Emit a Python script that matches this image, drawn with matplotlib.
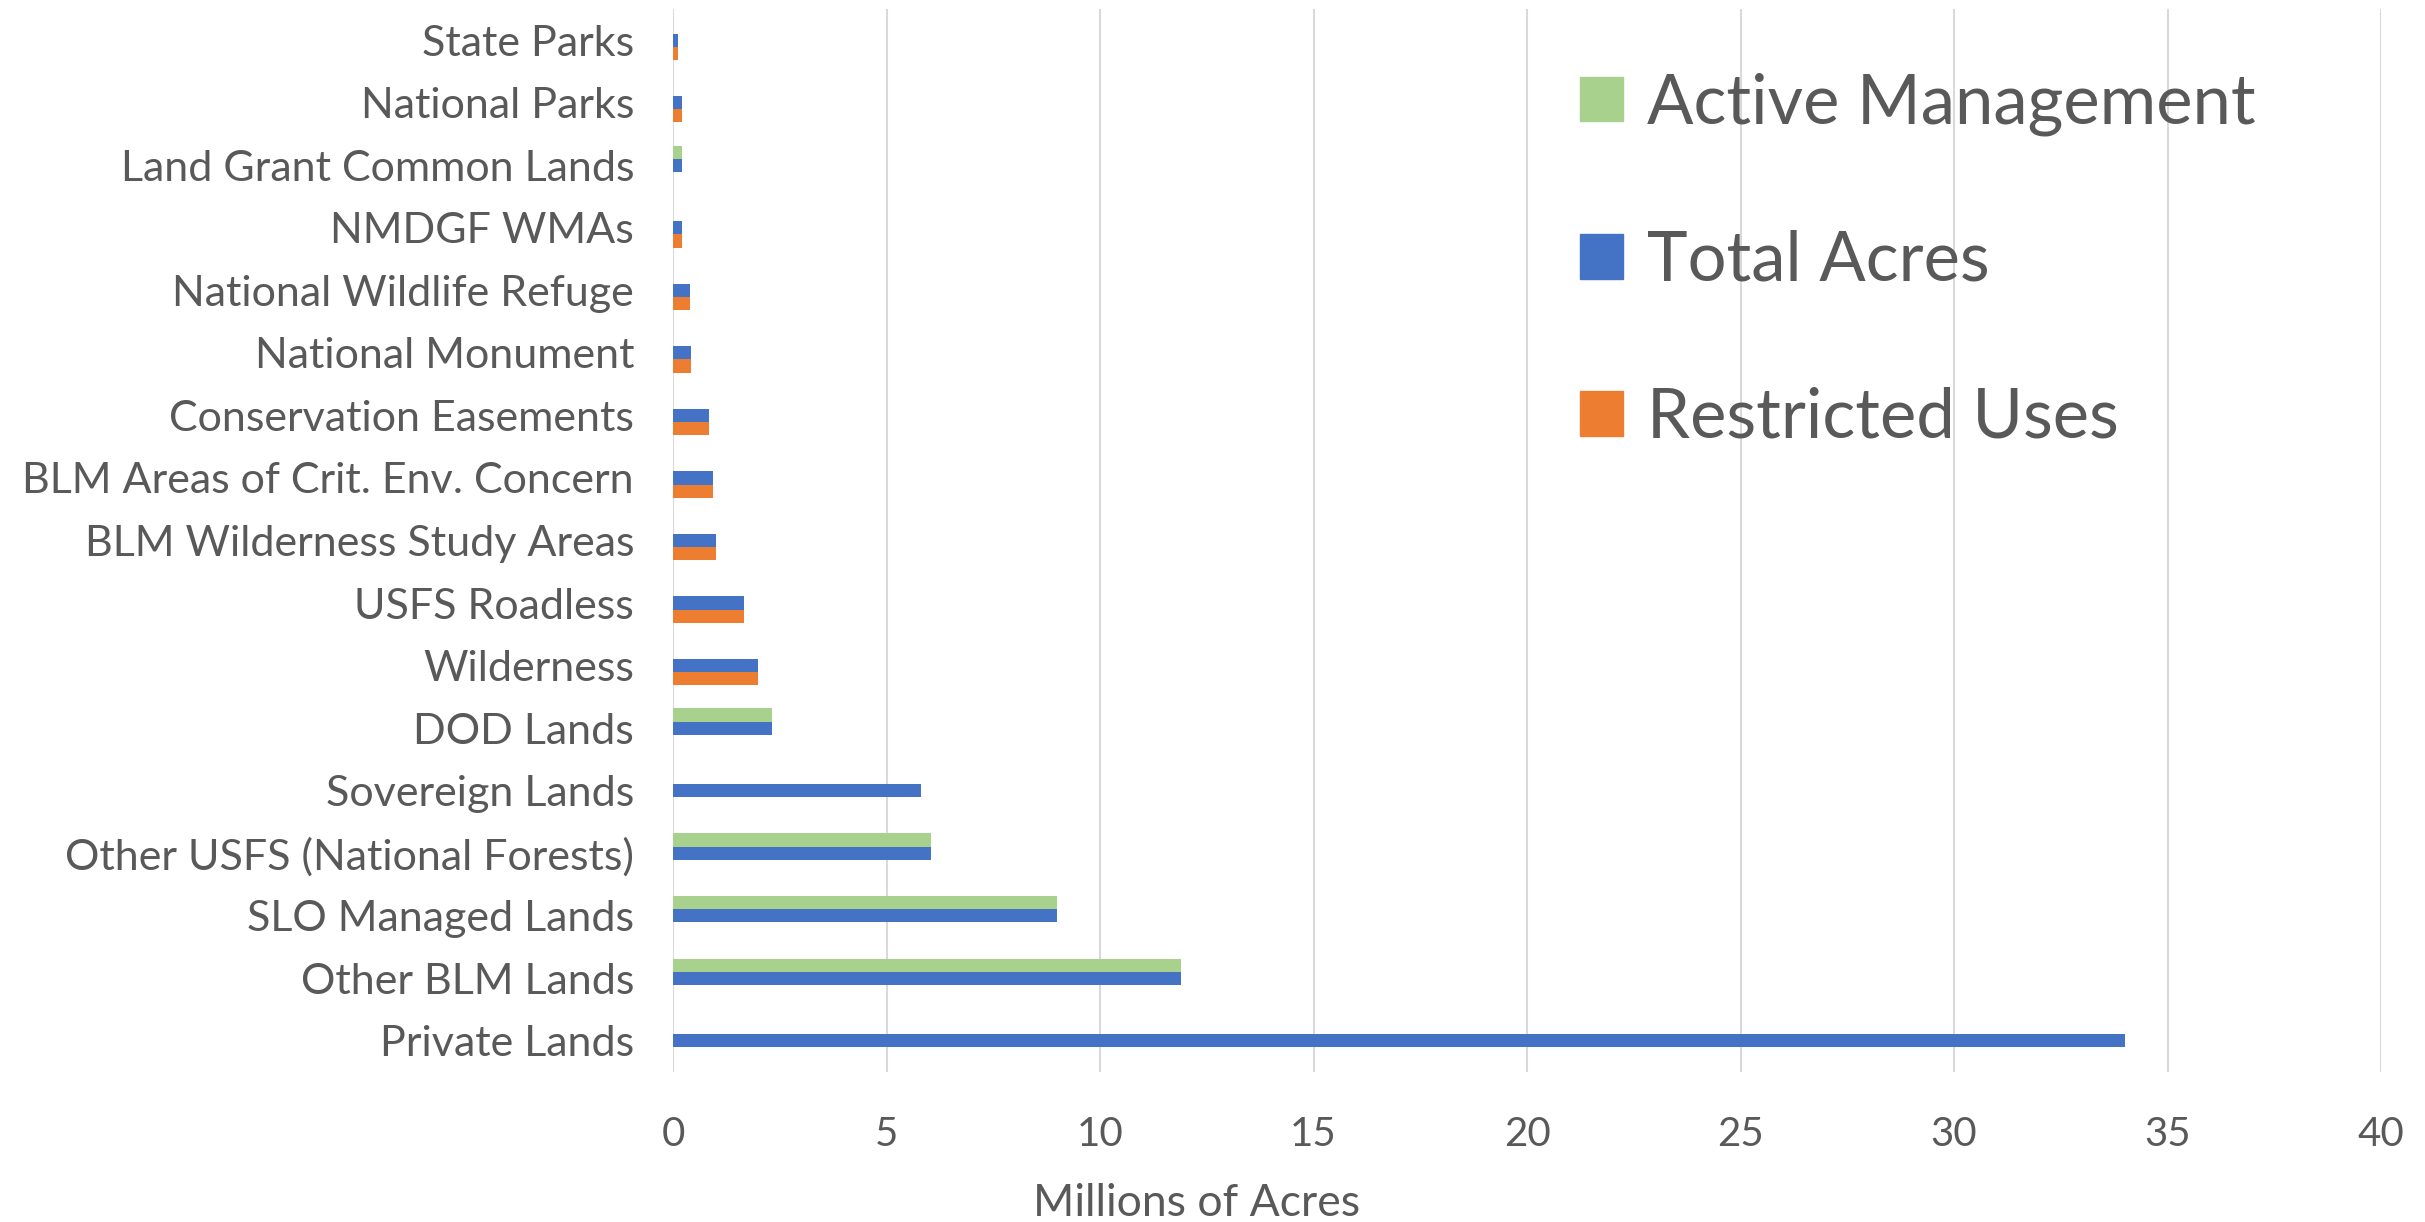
import matplotlib
matplotlib.use("Agg")
import matplotlib.pyplot as plt
import numpy as np
from matplotlib.patches import Patch

plt.rcParams['font.family'] = ['Lato', 'DejaVu Sans']

categories = ["State Parks", "National Parks", "Land Grant Common Lands", "NMDGF WMAs",
              "National Wildlife Refuge", "National Monument", "Conservation Easements",
              "BLM Areas of Crit. Env. Concern", "BLM Wilderness Study Areas", "USFS Roadless",
              "Wilderness", "DOD Lands", "Sovereign Lands", "Other USFS (National Forests)",
              "SLO Managed Lands", "Other BLM Lands", "Private Lands"]
active_management = [0, 0, 0.2, 0, 0, 0, 0, 0, 0, 0, 0, 2.33, 0, 6.05, 9.0, 11.9, 0]
total_acres = [0.11, 0.2, 0.2, 0.2, 0.39, 0.43, 0.85, 0.94, 1.0, 1.66, 1.98, 2.33, 5.8, 6.05, 9.0, 11.9, 34.0]
restricted_uses = [0.11, 0.2, 0, 0.2, 0.39, 0.43, 0.85, 0.94, 1.0, 1.66, 1.98, 0, 0, 0, 0, 0, 0]
xticks = [0, 5, 10, 15, 20, 25, 30, 35, 40]

GREEN, BLUE, ORANGE = "#A9D18E", "#4472C4", "#ED7D31"
TXT = "#595959"

fig = plt.figure(figsize=(24.25, 12.22), dpi=100)
ax = fig.add_axes([673/2425, 1 - 1072/1222, (2381-673)/2425, (1072-9)/1222])

n = len(categories)
y = np.arange(n)[::-1].astype(float)  # first category at top
h = 0.21
ax.barh(y + h, active_management, height=h, color=GREEN, label="Active Management", zorder=3)
ax.barh(y, total_acres, height=h, color=BLUE, label="Total Acres", zorder=3)
ax.barh(y - h, restricted_uses, height=h, color=ORANGE, label="Restricted Uses", zorder=3)

ax.set_ylim(-0.5, n - 0.5)
ax.set_xlim(0, 40)
ax.set_xticks(xticks)
ax.set_xticklabels([str(t) for t in xticks])
ax.set_yticks(y)
ax.set_yticklabels(categories)
ax.tick_params(axis='both', length=0, colors=TXT)
ax.tick_params(axis='y', pad=28, labelsize=31)
ax.tick_params(axis='x', pad=32, labelsize=29)
for s in ax.spines.values():
    s.set_visible(False)
ax.grid(axis='x', color="#D9D9D9", linewidth=1.5, zorder=0)
ax.set_axisbelow(True)

fig.text(1197/2425, 1 - 1203/1222, "Millions of Acres", ha='center', va='center',
         fontsize=32, color=TXT)

handles = [Patch(color=GREEN), Patch(color=BLUE), Patch(color=ORANGE)]
labels = ["Active Management", "Total Acres", "Restricted Uses"]
leg = fig.legend(handles, labels, loc='upper left', bbox_to_anchor=(1580/2425, 1 - 72/1222),
                 frameon=False, fontsize=49.5, labelcolor=TXT, labelspacing=1.37,
                 handlelength=0.62, handleheight=0.62, handletextpad=0.35, borderpad=0,
                 borderaxespad=0)

fig.savefig("out.png", dpi=100, facecolor="white")
